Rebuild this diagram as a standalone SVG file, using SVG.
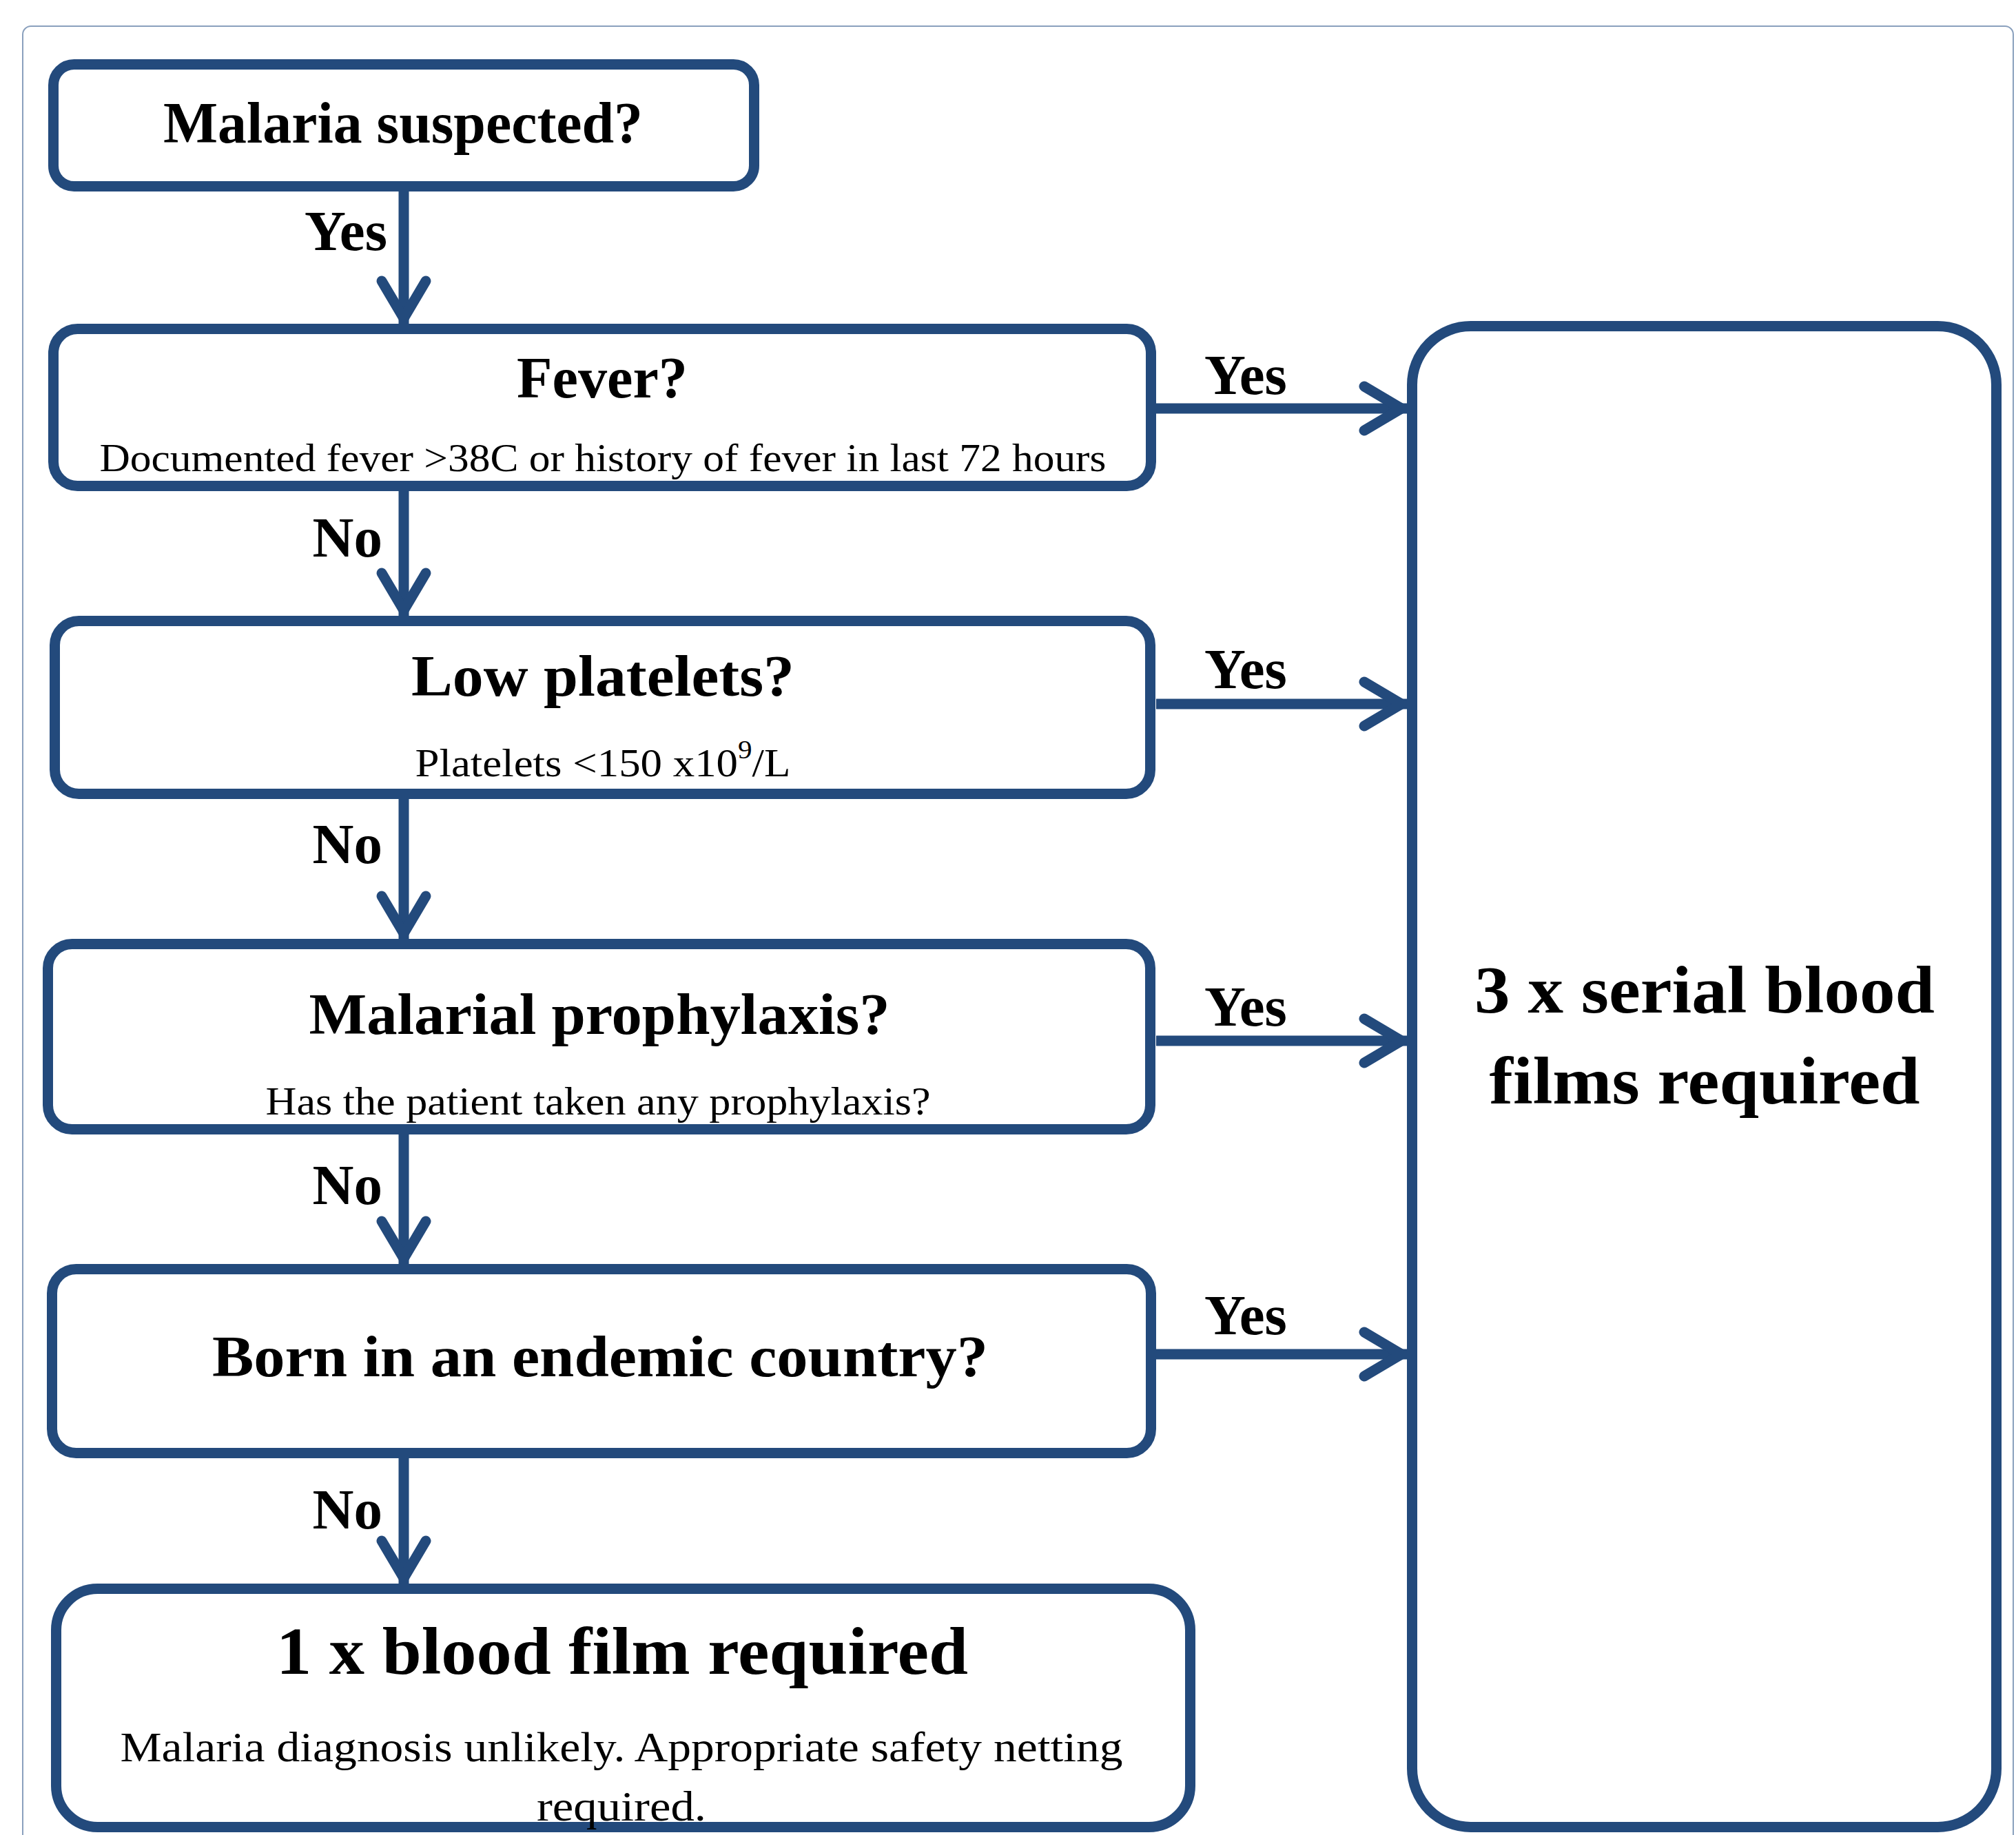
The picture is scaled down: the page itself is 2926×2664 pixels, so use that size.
<svg xmlns="http://www.w3.org/2000/svg" width="2926" height="2664" viewBox="0 0 2926 2664">
<defs>
<style>
.box{fill:#fff;stroke:#234A7C;stroke-width:15}
.con{stroke:#234A7C;stroke-width:15;fill:none}
.t{font-family:"Liberation Serif","Times New Roman",serif;fill:#000}
.b{font-weight:bold}
.title{font-size:84px;font-weight:bold;text-anchor:middle}
.sub{font-size:58px;text-anchor:middle}
.lbl{font-size:83px;font-weight:bold}
</style>
<marker id="arr" markerUnits="userSpaceOnUse" markerWidth="200" markerHeight="200" refX="0" refY="0" orient="auto" overflow="visible">
<path d="M-62,-32 L-8,0 L-62,32" fill="none" stroke="#234A7C" stroke-width="15" stroke-linecap="round" stroke-linejoin="miter"/>
</marker>
</defs>
<rect width="2926" height="2664" fill="#fff"/>
<rect x="33" y="38" width="2889" height="2700" rx="12" fill="none" stroke="#8AA0BD" stroke-width="2"/>

<g id="connectors">
<line class="con" x1="586" y1="278" x2="586" y2="470" marker-end="url(#arr)"/>
<line class="con" x1="586" y1="713" x2="586" y2="894" marker-end="url(#arr)"/>
<line class="con" x1="586" y1="1160" x2="586" y2="1363" marker-end="url(#arr)"/>
<line class="con" x1="586" y1="1647" x2="586" y2="1835" marker-end="url(#arr)"/>
<line class="con" x1="586" y1="2117" x2="586" y2="2299" marker-end="url(#arr)"/>
<line class="con" x1="1678" y1="593" x2="2042" y2="593" marker-end="url(#arr)"/>
<line class="con" x1="1678" y1="1022" x2="2042" y2="1022" marker-end="url(#arr)"/>
<line class="con" x1="1678" y1="1511" x2="2042" y2="1511" marker-end="url(#arr)"/>
<line class="con" x1="1678" y1="1966" x2="2042" y2="1966" marker-end="url(#arr)"/>
<text class="t lbl" x="562" y="363" text-anchor="end">Yes</text>
<text class="t lbl" x="555" y="808" text-anchor="end">No</text>
<text class="t lbl" x="555" y="1253" text-anchor="end">No</text>
<text class="t lbl" x="555" y="1748" text-anchor="end">No</text>
<text class="t lbl" x="555" y="2219" text-anchor="end">No</text>
<text class="t lbl" x="1748" y="572">Yes</text>
<text class="t lbl" x="1748" y="999">Yes</text>
<text class="t lbl" x="1748" y="1489">Yes</text>
<text class="t lbl" x="1748" y="1937">Yes</text>
</g>

<g id="node-malaria-suspected">
<rect class="box" x="77.5" y="93.5" width="1017" height="177" rx="30"/>
<text class="t title" x="585" y="207" textLength="696" lengthAdjust="spacingAndGlyphs">Malaria suspected?</text>
</g>

<g id="node-fever">
<rect class="box" x="77.5" y="477.5" width="1593" height="228" rx="35"/>
<text class="t title" x="874" y="577" textLength="248" lengthAdjust="spacingAndGlyphs">Fever?</text>
<text class="t sub" x="875" y="684" textLength="1461" lengthAdjust="spacingAndGlyphs">Documented fever &gt;38C or history of fever in last 72 hours</text>
</g>

<g id="node-low-platelets">
<rect class="box" x="79.5" y="901.5" width="1590" height="251" rx="35"/>
<text class="t title" x="875" y="1010" textLength="556" lengthAdjust="spacingAndGlyphs">Low platelets?</text>
<text class="t sub" x="875" y="1127" font-size="62" textLength="545" lengthAdjust="spacingAndGlyphs">Platelets &lt;150 x10<tspan font-size="38" dy="-26">9</tspan><tspan dy="26">/L</tspan></text>
</g>

<g id="node-prophylaxis">
<rect class="box" x="69.5" y="1370.5" width="1600" height="269" rx="35"/>
<text class="t title" x="870" y="1501" textLength="843" lengthAdjust="spacingAndGlyphs">Malarial prophylaxis?</text>
<text class="t sub" x="868" y="1618" textLength="965" lengthAdjust="spacingAndGlyphs">Has the patient taken any prophylaxis?</text>
</g>

<g id="node-endemic">
<rect class="box" x="75.5" y="1842.5" width="1595" height="267" rx="35"/>
<text class="t title" x="871" y="1998" textLength="1126" lengthAdjust="spacingAndGlyphs">Born in an endemic country?</text>
</g>

<g id="node-one-film">
<rect class="box" x="81.5" y="2306.5" width="1646" height="346" rx="60"/>
<text class="t b" x="903" y="2430" font-size="97" text-anchor="middle" textLength="1004" lengthAdjust="spacingAndGlyphs">1 x blood film required</text>
<text class="t" x="902" y="2557" font-size="62" text-anchor="middle" textLength="1455" lengthAdjust="spacingAndGlyphs">Malaria diagnosis unlikely. Appropriate safety netting</text>
<text class="t" x="902" y="2643" font-size="62" text-anchor="middle" textLength="246" lengthAdjust="spacingAndGlyphs">required.</text>
</g>

<g id="node-three-films">
<rect class="box" x="2049.5" y="473.5" width="848" height="2179" rx="85"/>
<text class="t b" x="2474" y="1470" font-size="98" text-anchor="middle" textLength="668" lengthAdjust="spacingAndGlyphs">3 x serial blood</text>
<text class="t b" x="2474" y="1602" font-size="98" text-anchor="middle" textLength="625" lengthAdjust="spacingAndGlyphs">films required</text>
</g>
</svg>
